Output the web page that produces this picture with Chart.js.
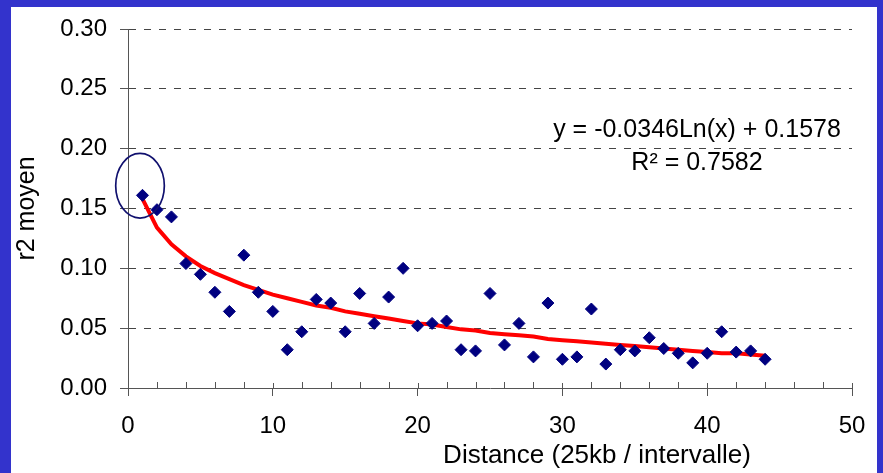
<!DOCTYPE html>
<html>
<head>
<meta charset="utf-8">
<script src="https://cdn.jsdelivr.net/npm/chart.js@4"></script>
<style>
  html, body { margin: 0; padding: 0; }
  body { width: 883px; height: 473px; background: #3333cc; position: relative; overflow: hidden; }
  #frame { position: absolute; left: 11px; top: 7px; width: 866px; height: 466px; background: #fff; }
</style>
</head>
<body>
<div id="frame"><canvas id="r2-chart"></canvas></div>
<script>
// distance (intervalles de 25kb) et r2 moyen
const distance = [1, 2, 3, 4, 5, 6, 7, 8, 9, 10, 11, 12, 13, 14, 15, 16, 17, 18, 19, 20, 21, 22,
    23, 24, 25, 26, 27, 28, 29, 30, 31, 32, 33, 34, 35, 36, 37, 38, 39, 40, 41, 42, 43, 44];
const r2Moyen = [0.161, 0.149, 0.143, 0.104, 0.095, 0.080, 0.064, 0.111, 0.080, 0.064, 0.032,
    0.047, 0.074, 0.071, 0.047, 0.079, 0.054, 0.076, 0.100, 0.052, 0.054, 0.056, 0.032, 0.031,
    0.079, 0.036, 0.054, 0.026, 0.071, 0.024, 0.026, 0.066, 0.020, 0.032, 0.031, 0.042, 0.033,
    0.029, 0.021, 0.029, 0.047, 0.030, 0.031, 0.024];
// courbe de tendance logarithmique
const tendance = [0.158, 0.134, 0.120, 0.110, 0.102, 0.096, 0.091, 0.086, 0.082, 0.078, 0.075,
    0.072, 0.069, 0.067, 0.064, 0.062, 0.060, 0.058, 0.056, 0.054, 0.053, 0.051, 0.049, 0.048,
    0.046, 0.045, 0.044, 0.043, 0.041, 0.040, 0.039, 0.038, 0.037, 0.036, 0.035, 0.034, 0.033,
    0.032, 0.031, 0.030, 0.029, 0.029, 0.028, 0.027];
const yTicks = [0, 0.05, 0.10, 0.15, 0.20, 0.25, 0.30];
const xMajor = [0, 10, 20, 30, 40, 50];
const equation = 'y = -0.0346Ln(x) + 0.1578';
const rSquared = 'R\u00B2 = 0.7582';
const xTitle = 'Distance (25kb / intervalle)';
const yTitle = 'r2 moyen';
// cercle autour du premier point (unites des donnees)
const circle = { x: 0.83, y: 0.169, rx: 1.68, ry: 0.027 };

const FONT = "'Liberation Sans', Arial, sans-serif";
const AXIS = '#555555';

const extras = {
    id: 'extras',
    afterDraw(chart) {
        const { ctx, chartArea } = chart;
        const xs = chart.scales.x, ys = chart.scales.y;
        ctx.save();
        // petites graduations vers l'interieur
        ctx.strokeStyle = AXIS;
        ctx.lineWidth = 1;
        ctx.beginPath();
        for (let v = 2; v <= 50; v += 2) {
            const px = Math.round(xs.getPixelForValue(v)) + 0.5;
            const len = xMajor.includes(v) ? 5 : 6;
            ctx.moveTo(px, chartArea.bottom);
            ctx.lineTo(px, chartArea.bottom - len);
        }
        ctx.stroke();

        // ellipse
        const cx = xs.getPixelForValue(circle.x);
        const cy = ys.getPixelForValue(circle.y);
        const rx = xs.getPixelForValue(circle.x + circle.rx) - cx;
        const ry = cy - ys.getPixelForValue(circle.y + circle.ry);
        ctx.strokeStyle = '#10106e';
        ctx.lineWidth = 1.7;
        ctx.beginPath();
        ctx.ellipse(cx, cy, rx, ry, 0, 0, Math.PI * 2);
        ctx.stroke();

        // equation de la tendance
        ctx.fillStyle = '#000';
        ctx.font = '25px ' + FONT;
        ctx.textAlign = 'center';
        ctx.textBaseline = 'alphabetic';
        ctx.fillText(equation, 686, 129.5);
        ctx.fillText(rSquared, 686, 162.5);

        // titre de l'axe x
        ctx.font = '26px ' + FONT;
        ctx.fillText(xTitle, 586, 456);
        ctx.restore();
    }
};

const ctx = document.getElementById('r2-chart').getContext('2d');
const r2Chart = new Chart(ctx, {
    type: 'scatter',
    data: {
        datasets: [{
            label: 'r2 moyen',
            data: distance.map((d, i) => ({ x: d, y: r2Moyen[i] })),
            backgroundColor: '#000080',
            borderColor: '#000080',
            borderWidth: 1,
            pointStyle: 'rectRot',
            pointRadius: 6,
            order: 0,
        }, {
            type: 'line',
            label: 'tendance',
            data: distance.map((d, i) => ({ x: d, y: tendance[i] })),
            borderColor: '#ff0000',
            borderWidth: 4,
            pointRadius: 0,
            fill: false,
            tension: 0,
            order: 1,
        }]
    },
    options: {
        responsive: true,
        maintainAspectRatio: false,
        animation: false,
        layout: { padding: { top: 22, right: 25, left: 0, bottom: 0 } },
        plugins: {
            legend: { display: false },
            tooltip: { enabled: false },
        },
        scales: {
            x: {
                type: 'linear',
                min: 0,
                max: 50,
                afterFit: (scale) => {
                    scale.height = 85;
                    scale.paddingLeft = 0;
                    scale.paddingRight = 0;
                },
                ticks: {
                    stepSize: 2,
                    autoSkip: false,
                    maxRotation: 0,
                    padding: 16,
                    color: '#000',
                    font: { family: FONT, size: 24 },
                    callback: (v) => (xMajor.includes(v) ? v : ''),
                },
                grid: {
                    drawOnChartArea: false,
                    drawTicks: true,
                    tickLength: 8,
                    tickColor: (c) => (c.tick && xMajor.includes(c.tick.value) ? AXIS : 'rgba(0,0,0,0)'),
                },
                border: { color: AXIS, width: 1 },
            },
            y: {
                min: 0,
                max: 0.3,
                afterFit: (scale) => {
                    scale.width = 117;
                    scale.paddingTop = 0;
                    scale.paddingBottom = 0;
                },
                afterBuildTicks: (scale) => { scale.ticks = yTicks.map(v => ({ value: v })); },
                ticks: {
                    padding: 13,
                    color: '#000',
                    font: { family: FONT, size: 24 },
                    callback: (v) => v.toFixed(2),
                },
                grid: {
                    color: (c) => (c.tick && c.tick.value === 0 ? 'rgba(0,0,0,0)' : '#444444'),
                    tickColor: AXIS,
                    tickLength: 8,
                    tickBorderDash: [],
                },
                border: { color: AXIS, width: 1, dash: [7, 8] },
                title: {
                    display: true,
                    text: yTitle,
                    color: '#000',
                    font: { family: FONT, size: 25 },
                    padding: { top: 1, bottom: 0 },
                },
            }
        }
    },
    plugins: [extras]
});
</script>
</body>
</html>
